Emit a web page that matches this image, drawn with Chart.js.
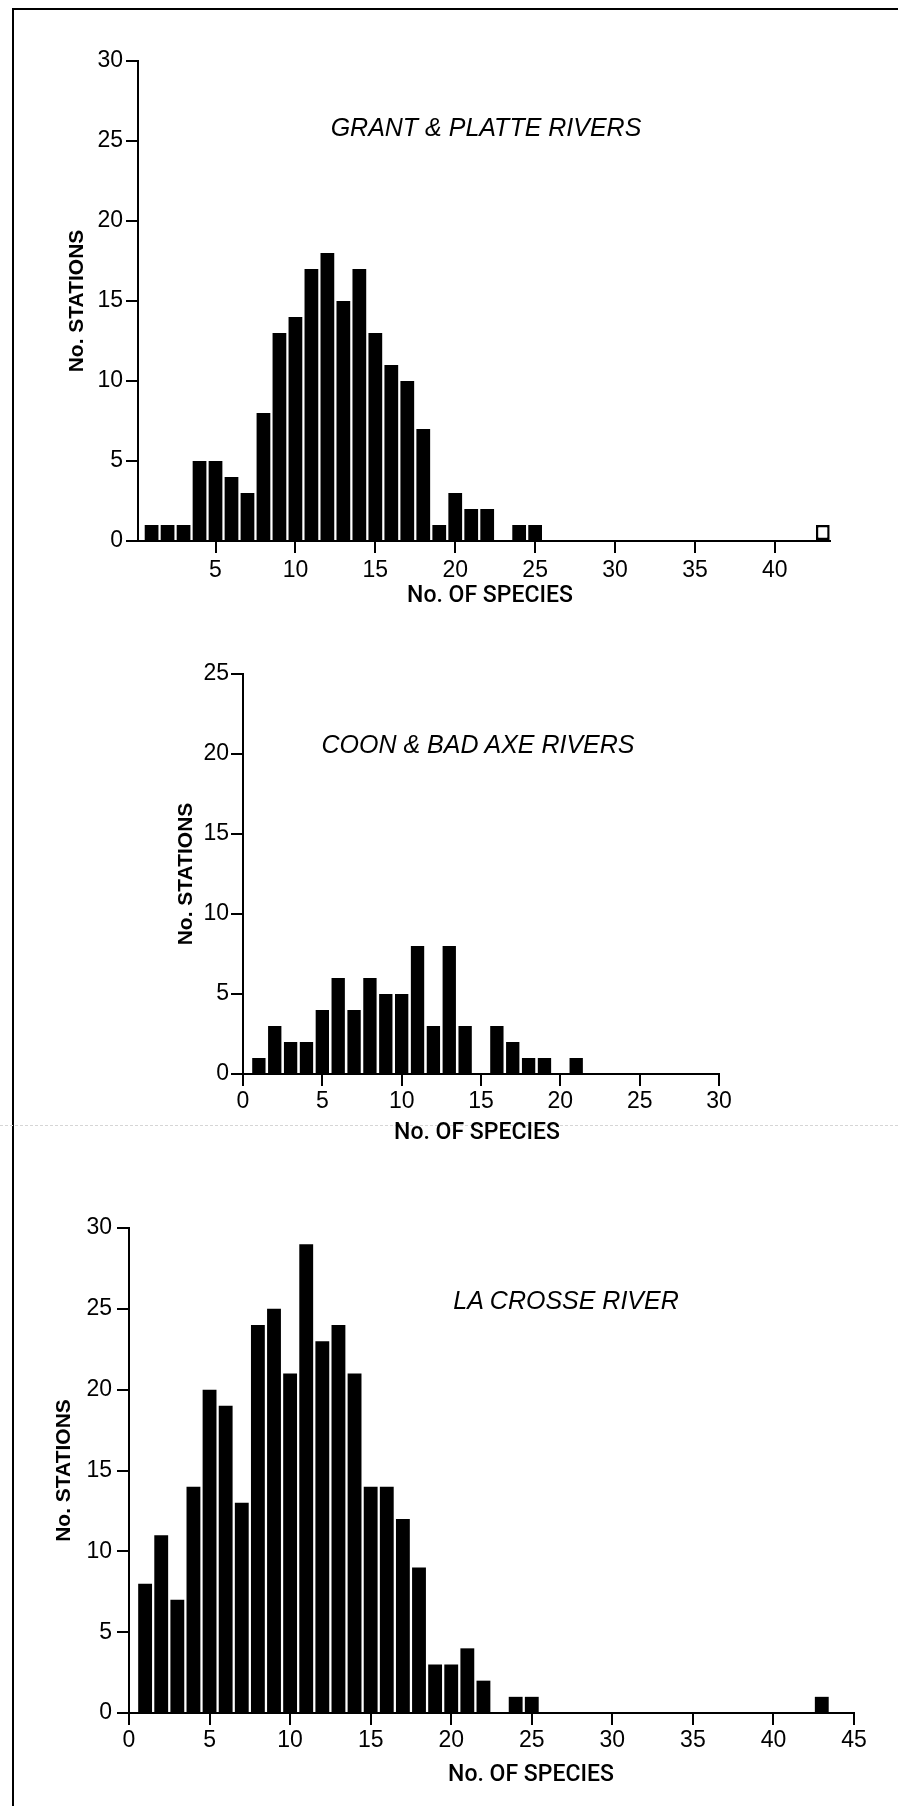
<!DOCTYPE html>
<html>
<head>
<meta charset="utf-8">
<script src="https://cdn.jsdelivr.net/npm/chart.js@4.4.0/dist/chart.umd.min.js"></script>
<style>
html,body{margin:0;padding:0;background:#fff;}
#page{position:relative;width:898px;height:1806px;overflow:hidden;background:#fff;}
canvas{position:absolute;left:0;}
.frame{position:absolute;left:12px;top:8px;width:900px;height:1810px;border-left:2px solid #000;border-top:2px solid #000;}
.ptitle{position:absolute;width:600px;text-align:center;font-family:'Liberation Sans',Arial,sans-serif;font-style:italic;font-size:25px;line-height:25px;color:#000;white-space:nowrap;}
.xtitle{position:absolute;width:400px;text-align:center;font-family:Roboto,'Liberation Sans',Arial,sans-serif;font-weight:500;font-size:23px;line-height:23px;color:#000;white-space:nowrap;}
.scan{position:absolute;left:0;top:1125px;width:898px;height:0;border-top:1px dashed #d6d6d6;}
</style>
</head>
<body>
<div id="page">
  <div class="frame"></div>
  <div class="scan"></div>
  <canvas id="c1" width="898" height="620" style="top:0px"></canvas>
  <canvas id="c2" width="898" height="550" style="top:620px"></canvas>
  <canvas id="c3" width="898" height="636" style="top:1170px"></canvas>
  <div class="ptitle" style="left:186px;top:115px;">GRANT &amp; PLATTE RIVERS</div>
  <div class="ptitle" style="left:178px;top:732px;">COON &amp; BAD AXE RIVERS</div>
  <div class="ptitle" style="left:266px;top:1288px;">LA CROSSE RIVER</div>
  <div class="xtitle" style="left:290px;top:583px;">No. OF SPECIES</div>
  <div class="xtitle" style="left:277px;top:1120px;">No. OF SPECIES</div>
  <div class="xtitle" style="left:331px;top:1762px;">No. OF SPECIES</div>
</div>
<script>
// ---- Data: Grant & Platte Rivers ----
const speciesGrant  = [1,2,3,4,5,6,7,8,9,10,11,12,13,14,15,16,17,18,19,20,21,22,23,24,25,43];
const stationsGrant = [1,1,1,5,5,4,3,8,13,14,17,18,15,17,13,11,10,7,1,3,2,2,0,1,1,1];
const openBinsGrant = [43];
const xTicksGrant = [5,10,15,20,25,30,35,40];
const yTicksGrant = [0,5,10,15,20,25,30];

// ---- Data: Coon & Bad Axe Rivers ----
const speciesCoon  = [1,2,3,4,5,6,7,8,9,10,11,12,13,14,15,16,17,18,19,20,21];
const stationsCoon = [1,3,2,2,4,6,4,6,5,5,8,3,8,3,0,3,2,1,1,0,1];
const openBinsCoon = [];
const xTicksCoon = [0,5,10,15,20,25,30];
const yTicksCoon = [0,5,10,15,20,25];

// ---- Data: La Crosse River ----
const speciesLaCrosse  = [1,2,3,4,5,6,7,8,9,10,11,12,13,14,15,16,17,18,19,20,21,22,23,24,25,43];
const stationsLaCrosse = [8,11,7,14,20,19,13,24,25,21,29,23,24,21,14,14,12,9,3,3,4,2,0,1,1,1];
const openBinsLaCrosse = [];
const xTicksLaCrosse = [0,5,10,15,20,25,30,35,40,45];
const yTicksLaCrosse = [0,5,10,15,20,25,30];

const yTitle = 'No. STATIONS';
const tickFamily = "'Liberation Sans', Arial, sans-serif";

function makeChart(id, species, stations, openBins, xTicks, yTicks, g) {
  const canvas = document.getElementById(id);
  const isOpen = i => openBins.includes(species[i]);
  return new Chart(canvas, {
    type: 'bar',
    data: {
      datasets: [{
        data: species.map((s, i) => ({x: s, y: stations[i]})),
        backgroundColor: c => isOpen(c.dataIndex) ? '#ffffff' : '#000000',
        borderColor: '#000000',
        borderWidth: c => isOpen(c.dataIndex) ? 2.5 : 0,
        borderSkipped: c => isOpen(c.dataIndex) ? false : 'start',
        barPercentage: g.barPct,
        categoryPercentage: 1.0
      }]
    },
    options: {
      responsive: false,
      animation: false,
      events: [],
      layout: { padding: { left: 0, top: g.top, right: canvas.width - g.right, bottom: canvas.height - g.bottom - 40 } },
      plugins: { legend: { display: false }, tooltip: { enabled: false }, title: { display: false } },
      scales: {
        x: {
          type: 'linear', min: g.xMin, max: g.xMax, offset: false,
          afterBuildTicks: s => { s.ticks = xTicks.map(v => ({value: v})); },
          afterFit: s => { s.height = 40; },
          grid: { display: true, drawOnChartArea: false, drawTicks: true, tickLength: 12, lineWidth: 2, color: '#000', offset: false },
          border: { display: true, color: '#000', width: 2 },
          ticks: { color: '#000', font: { family: tickFamily, size: 23 }, padding: g.xTickPad, maxRotation: 0, autoSkip: false }
        },
        y: {
          type: 'linear', min: 0, max: g.yMax,
          afterBuildTicks: s => { s.ticks = yTicks.map(v => ({value: v})); },
          afterFit: s => { s.width = g.left; },
          grid: { display: true, drawOnChartArea: false, drawTicks: true, tickLength: 12, lineWidth: 2, color: '#000' },
          border: { display: true, color: '#000', width: 2 },
          ticks: { color: '#000', font: { family: tickFamily, size: 23 }, padding: g.yTickPad, autoSkip: false },
          title: { display: true, text: yTitle, color: '#000', font: { family: tickFamily, size: 21, weight: 'bold' }, padding: { top: g.yTitleX - 12.6, bottom: 0 } }
        }
      }
    }
  });
}

makeChart('c1', speciesGrant, stationsGrant, openBinsGrant, xTicksGrant, yTicksGrant,
  { left: 138, right: 830, top: 61, bottom: 541, xMin: 0.15, xMax: 43.45, yMax: 30, yTitleX: 77, yTickPad: 3, xTickPad: 4, barPct: 0.86 });
makeChart('c2', speciesCoon, stationsCoon, openBinsCoon, xTicksCoon, yTicksCoon,
  { left: 243, right: 719, top: 54, bottom: 454, xMin: 0, xMax: 30, yMax: 25, yTitleX: 186, yTickPad: 2, xTickPad: 2, barPct: 0.84 });
makeChart('c3', speciesLaCrosse, stationsLaCrosse, openBinsLaCrosse, xTicksLaCrosse, yTicksLaCrosse,
  { left: 129, right: 854, top: 58, bottom: 543, xMin: 0, xMax: 45, yMax: 30, yTitleX: 64, yTickPad: 5, xTickPad: 2, barPct: 0.86 });
</script>
</body>
</html>
